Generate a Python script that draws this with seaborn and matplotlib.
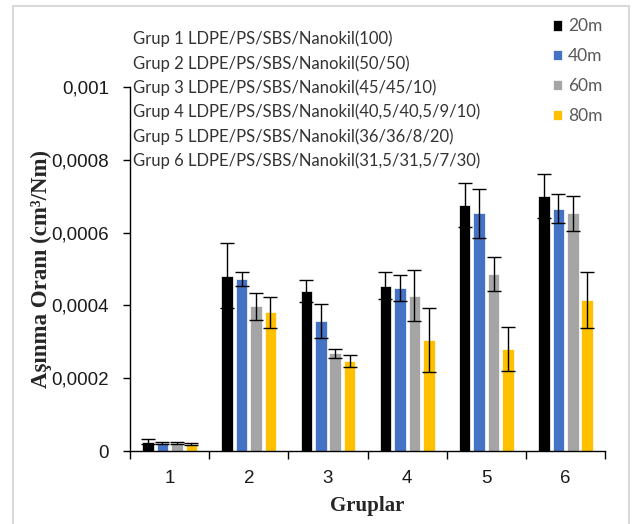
import numpy as np
import pandas as pd
import seaborn as sns
import matplotlib.pyplot as plt
from matplotlib.patches import Rectangle
from matplotlib.ticker import FuncFormatter, FixedLocator

#%% Data
groups = ['1', '2', '3', '4', '5', '6']
times = ['20m', '40m', '60m', '80m']

mean_20 = [0.0000257, 0.000482, 0.000439, 0.000454, 0.000676, 0.000701]
mean_40 = [0.000022, 0.000473, 0.000357, 0.000448, 0.000653, 0.000665]
mean_60 = [0.000022, 0.000397, 0.000268, 0.000427, 0.000486, 0.000653]
mean_80 = [0.000019, 0.000381, 0.000247, 0.000305, 0.000281, 0.000415]

err_20 = [0.0000075, 0.000089, 0.000030, 0.000037, 0.000061, 0.000060]
err_40 = [0.000002, 0.000019, 0.000046, 0.000035, 0.000067, 0.000040]
err_60 = [0.000002, 0.000036, 0.000013, 0.000070, 0.000047, 0.000048]
err_80 = [0.000003, 0.000043, 0.000016, 0.000087, 0.000060, 0.000076]

group_notes = [
    'Grup 1 LDPE/PS/SBS/Nanokil(100)',
    'Grup 2 LDPE/PS/SBS/Nanokil(50/50)',
    'Grup 3 LDPE/PS/SBS/Nanokil(45/45/10)',
    'Grup 4 LDPE/PS/SBS/Nanokil(40,5/40,5/9/10)',
    'Grup 5 LDPE/PS/SBS/Nanokil(36/36/8/20)',
    'Grup 6 LDPE/PS/SBS/Nanokil(31,5/31,5/7/30)',
]

colors = ['#000000', '#4472C4', '#A5A5A5', '#FFC000']

means = [mean_20, mean_40, mean_60, mean_80]
errs = [err_20, err_40, err_60, err_80]

df = pd.DataFrame({
    'Grup': np.tile(groups, len(times)),
    'Sure': np.repeat(times, len(groups)),
    'Oran': np.concatenate(means),
})

#%% Plot
sns.set_style('white')
plt.rcParams['font.family'] = ['Lato', 'DejaVu Sans']

fig = plt.figure(figsize=(6.33, 5.24), dpi=100)
ax = fig.add_axes([0.2054, 0.1393, 0.7506, 0.6947])

sns.barplot(data=df, x='Grup', y='Oran', hue='Sure', palette=colors,
            saturation=1, width=0.73, gap=0.2, errorbar=None,
            edgecolor='white', linewidth=0.5, ax=ax)

# error bars on top of the seaborn bars
for cont, e in zip(ax.containers, errs):
    xs = [b.get_x() + b.get_width() / 2 for b in cont]
    ys = [b.get_height() for b in cont]
    ax.errorbar(xs, ys, yerr=e, fmt='none', ecolor='black',
                elinewidth=1, capsize=5, capthick=1)

ax.set_ylim(0, 0.001)
ax.set_xlim(-0.5, 5.5)
ax.set_yticks([0, 0.0002, 0.0004, 0.0006, 0.0008, 0.001])
ax.yaxis.set_major_formatter(FuncFormatter(
    lambda v, p: '0' if v == 0 else ('%g' % v).replace('.', ',')))
ax.xaxis.set_minor_locator(FixedLocator(np.arange(-0.5, 6, 1)))
ax.tick_params(axis='x', which='major', length=0, pad=14,
               labelsize=13.5, labelcolor='#1a1a1a')
ax.tick_params(axis='x', which='minor', length=6, width=1, color='black',
               direction='out', bottom=True)
ax.tick_params(axis='y', which='major', length=5, width=1, color='black',
               direction='out', left=True, labelsize=13.5,
               labelcolor='#1a1a1a', pad=10)
for lab in ax.get_xticklabels() + ax.get_yticklabels():
    lab.set_family('Liberation Sans')

for s in ['top', 'right']:
    ax.spines[s].set_visible(False)
for s in ['left', 'bottom']:
    ax.spines[s].set_color('black')
    ax.spines[s].set_linewidth(1)

ax.set_ylabel('Aşınma Oranı (cm³/Nm)', family='Liberation Serif',
              weight='bold', fontsize=16.5, labelpad=0)
ax.set_xlabel('Gruplar', family='Liberation Serif', weight='bold',
              fontsize=15, labelpad=6)

# legend
handles, labels = ax.get_legend_handles_labels()
ax.get_legend().remove()
fig.legend(handles, labels, loc='upper left', bbox_to_anchor=(0.862, 0.978),
           frameon=False, handlelength=0.55, handleheight=0.55,
           handletextpad=0.35, labelspacing=0.8, fontsize=12.5,
           labelcolor='#595959', borderaxespad=0)

# group descriptions
fig.text(0.21, 0.941, '\n'.join(group_notes), ha='left', va='top',
         fontsize=12, color='#333333', linespacing=1.57)

# light frame round the figure
fig.patches.append(Rectangle((0.021, -0.05), 0.973, 1.038,
                             transform=fig.transFigure, fill=False,
                             edgecolor='#d9d9d9', linewidth=1.5))

fig.savefig('out.png', dpi=100)
